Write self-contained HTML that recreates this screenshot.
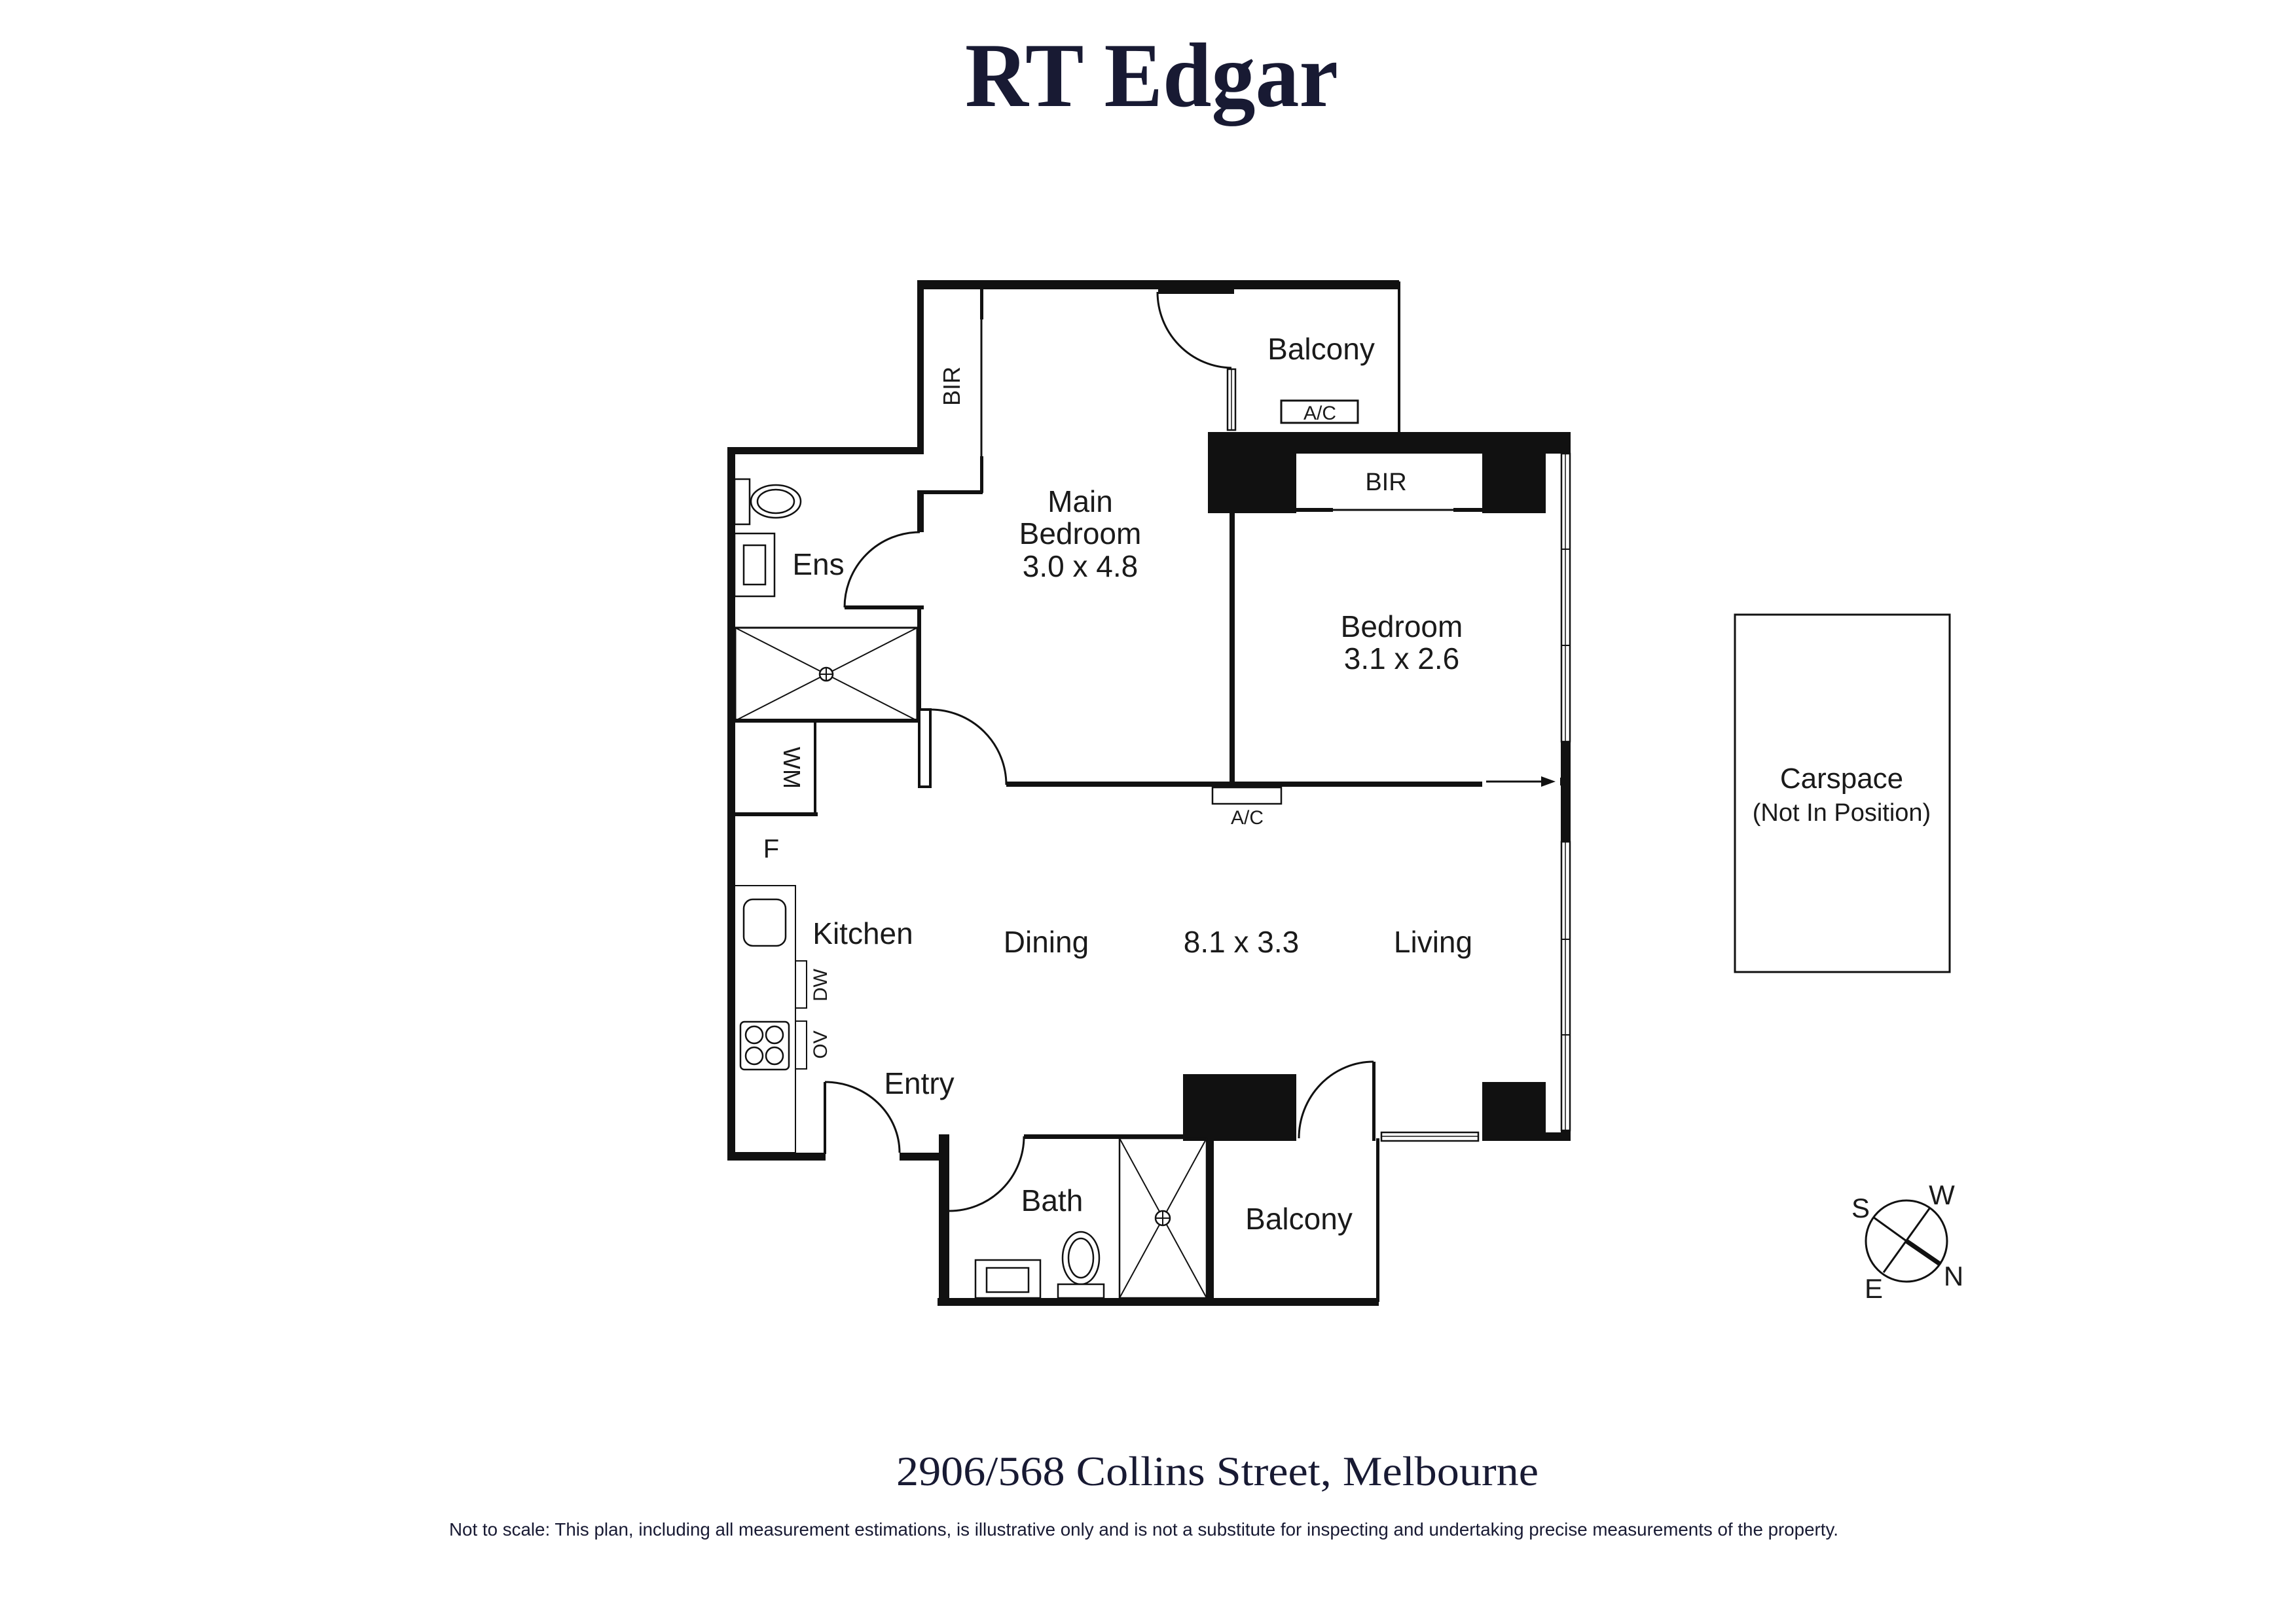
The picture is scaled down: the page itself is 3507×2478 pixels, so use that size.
<!DOCTYPE html>
<html><head><meta charset="utf-8"><style>
html,body{margin:0;padding:0;background:#fff;}
svg{display:block;}
text{font-family:"Liberation Sans",sans-serif;fill:#1a1a1a;}
</style></head><body>
<svg width="3507" height="2478" viewBox="0 0 3507 2478" xmlns="http://www.w3.org/2000/svg">
<rect width="3507" height="2478" fill="#fff"/>
<!-- Title -->
<text x="1474" y="162" font-family="Liberation Serif, serif" font-weight="bold" font-size="140" textLength="570" lengthAdjust="spacingAndGlyphs" style="font-family:'Liberation Serif',serif;fill:#181a33">RT Edgar</text>

<g fill="#111" stroke="none">
<!-- top wall -->
<rect x="1401" y="428" width="736" height="14"/>
<rect x="1769" y="436" width="116" height="13"/>
<!-- BIR left wall -->
<rect x="1401" y="428" width="10" height="265"/>
<!-- ens top wall -->
<rect x="1111" y="683" width="300" height="11"/>
<!-- left wall -->
<rect x="1111" y="683" width="12" height="1090"/>
<!-- bottom left wall -->
<rect x="1111" y="1761" width="150" height="12"/>
<rect x="1374" y="1761" width="76" height="12"/>
<!-- bath left wall -->
<rect x="1434" y="1733" width="16" height="262"/>
<!-- bottom wall -->
<rect x="1432" y="1983" width="674" height="12"/>
<!-- bath top wall -->
<rect x="1564" y="1733" width="245" height="7"/>
<!-- black block A -->
<rect x="1807" y="1641" width="173" height="102"/>
<!-- divider bath/balcony -->
<rect x="1843" y="1739" width="11" height="250"/>
<!-- balcony right -->
<rect x="2102" y="1739" width="5" height="250"/>
<!-- balcony door stub -->
<rect x="2096" y="1622" width="5" height="121"/>
<!-- black block B -->
<rect x="2264" y="1653" width="97" height="90"/>
<rect x="2264" y="1730" width="135" height="13"/>
<!-- black bedroom block -->
<rect x="1845" y="660" width="554" height="33"/>
<rect x="1845" y="660" width="135" height="124"/>
<rect x="2264" y="660" width="97" height="124"/>
<!-- right wall solid segment -->
<rect x="2384" y="1133" width="15" height="153"/>
<rect x="2384" y="1727" width="15" height="16"/>
<!-- bedroom divider -->
<rect x="1878" y="784" width="8" height="415"/>
<!-- horizontal wall -->
<rect x="1537" y="1194" width="727" height="8"/>
<!-- ens/main bedroom wall -->
<rect x="1401" y="749" width="10" height="64"/>
<rect x="1290" y="925" width="121" height="6"/>
<rect x="1401" y="925" width="6" height="178"/>
<!-- BIR bottom -->
<rect x="1401" y="749" width="100" height="6"/>
<!-- BIR right thick ends -->
<rect x="1497" y="440" width="5" height="48"/>
<rect x="1497" y="697" width="5" height="56"/>
<!-- ens shower bottom -->
<rect x="1111" y="1098" width="292" height="6"/>
<!-- WM -->
<rect x="1111" y="1241" width="138" height="6"/>
<rect x="1243" y="1101" width="4" height="144"/>
<!-- entry stub -->
<rect x="1258" y="1653" width="4" height="110"/>
<!-- bath left inner stub -->
</g>

<g fill="none" stroke="#111" stroke-width="3">
<!-- balcony right thin wall -->
<line x1="2137" y1="430" x2="2137" y2="660" stroke-width="4"/>
<!-- BIR right line -->
<line x1="1499" y1="440" x2="1499" y2="753"/>
<!-- balcony top door -->
<path d="M1768 446 A115 116 0 0 0 1881 562"/>
<rect x="1875" y="564" width="12" height="93" fill="#fff" stroke-width="2.5"/>
<line x1="1881" y1="564" x2="1881" y2="657" stroke-width="1.5"/>
<!-- balcony AC -->
<rect x="1957" y="612" width="117" height="34"/>
<!-- bedroom BIR bottom -->
<line x1="1980" y1="779" x2="2264" y2="779" stroke-width="3"/>
<line x1="1980" y1="779" x2="2036" y2="779" stroke-width="6"/>
<line x1="2220" y1="779" x2="2264" y2="779" stroke-width="6"/>
<!-- right windows -->
<rect x="2385" y="693" width="13" height="440" fill="#fff" stroke-width="2.5"/>
<line x1="2391" y1="693" x2="2391" y2="1133" stroke-width="1.5"/>
<line x1="2384" y1="839" x2="2399" y2="839" stroke-width="2"/>
<line x1="2384" y1="986" x2="2399" y2="986" stroke-width="2"/>
<rect x="2385" y="1286" width="13" height="441" fill="#fff" stroke-width="2.5"/>
<line x1="2391" y1="1286" x2="2391" y2="1727" stroke-width="1.5"/>
<line x1="2384" y1="1435" x2="2399" y2="1435" stroke-width="2"/>
<line x1="2384" y1="1581" x2="2399" y2="1581" stroke-width="2"/>
<!-- bottom window -->
<rect x="2110" y="1730" width="148" height="13" fill="#fff" stroke-width="2.5"/>
<line x1="2110" y1="1736" x2="2258" y2="1736" stroke-width="1.5"/>
<!-- ens door -->
<path d="M1405 813 A115 115 0 0 0 1290 928"/>
<!-- main bedroom door -->
<rect x="1404" y="1084" width="17" height="118" fill="#fff" stroke-width="4"/>
<path d="M1421 1084 A116 115 0 0 1 1537 1199"/>
<!-- entry door -->
<path d="M1260 1653 A114 108 0 0 1 1374 1761"/>
<!-- bath door -->
<path d="M1450 1850 A114 114 0 0 0 1564 1736"/>
<!-- balcony bottom door -->
<path d="M2098 1622 A114 117 0 0 0 1984 1739"/>
<!-- arrow -->
<line x1="2270" y1="1194" x2="2358" y2="1194"/>
<!-- AC below -->
<rect x="1852" y="1203" width="105" height="25" stroke-width="2.5"/>
<!-- ens fixtures -->
<rect x="1122" y="732" width="23" height="69" stroke-width="2.5"/>
<ellipse cx="1185" cy="766" rx="38" ry="25" stroke-width="2.5"/>
<ellipse cx="1185" cy="766" rx="28" ry="18" stroke-width="2.5"/>
<rect x="1122" y="815" width="61" height="96" stroke-width="2.5"/>
<rect x="1136" y="833" width="33" height="60" stroke-width="2.5"/>
<!-- ens shower -->
<rect x="1123" y="959" width="278" height="142" stroke-width="3"/>
<line x1="1123" y1="959" x2="1401" y2="1101" stroke-width="2"/>
<line x1="1401" y1="959" x2="1123" y2="1101" stroke-width="2"/>
<circle cx="1262" cy="1030" r="10" fill="#fff" stroke-width="2.5"/>
<line x1="1252" y1="1030" x2="1272" y2="1030" stroke-width="2"/>
<line x1="1262" y1="1020" x2="1262" y2="1040" stroke-width="2"/>
<!-- kitchen -->
<rect x="1122" y="1353" width="93" height="408" stroke-width="2"/>
<rect x="1136" y="1374" width="64" height="71" rx="14" stroke-width="2.5"/>
<rect x="1215" y="1468" width="17" height="72" stroke-width="2"/>
<rect x="1215" y="1560" width="17" height="73" stroke-width="2"/>
<rect x="1131" y="1561" width="74" height="73" rx="6" stroke-width="2.5"/>
<circle cx="1152" cy="1581" r="13" stroke-width="2.5"/>
<circle cx="1183" cy="1581" r="13" stroke-width="2.5"/>
<circle cx="1152" cy="1613" r="13" stroke-width="2.5"/>
<circle cx="1183" cy="1613" r="13" stroke-width="2.5"/>
<!-- bath fixtures -->
<rect x="1490" y="1925" width="99" height="58" stroke-width="2.5"/>
<rect x="1507" y="1937" width="64" height="37" stroke-width="2.5"/>
<ellipse cx="1651" cy="1922" rx="28" ry="40" stroke-width="2.5"/>
<ellipse cx="1651" cy="1922" rx="19" ry="30" stroke-width="2.5"/>
<rect x="1616" y="1962" width="70" height="21" fill="#fff" stroke-width="2.5"/>
<!-- bath shower -->
<rect x="1710" y="1739" width="133" height="244" stroke-width="2.5"/>
<line x1="1710" y1="1739" x2="1843" y2="1983" stroke-width="2"/>
<line x1="1843" y1="1739" x2="1710" y2="1983" stroke-width="2"/>
<circle cx="1776" cy="1861" r="11" fill="#fff" stroke-width="2.5"/>
<line x1="1765" y1="1861" x2="1787" y2="1861" stroke-width="2"/>
<line x1="1776" y1="1850" x2="1776" y2="1872" stroke-width="2"/>
<!-- carspace -->
<rect x="2650" y="939" width="328" height="546" stroke-width="3"/>
<!-- compass -->
<circle cx="2912" cy="1896" r="62" stroke-width="3"/>
<line x1="2862" y1="1860" x2="2912" y2="1896" stroke-width="3"/>
<line x1="2912" y1="1896" x2="2963" y2="1931" stroke-width="7"/>
<line x1="2948" y1="1845" x2="2877" y2="1944" stroke-width="3"/>
</g>
<polygon points="2354,1186 2376,1194 2354,1202" fill="#111"/>
<rect x="2383" y="1188" width="4" height="12" fill="#111"/>

<!-- labels -->
<g font-size="46" text-anchor="middle">
<text x="1650" y="782">Main</text>
<text x="1650" y="831">Bedroom</text>
<text x="1650" y="881">3.0 x 4.8</text>
<text x="2018" y="549">Balcony</text>
<text x="2141" y="973">Bedroom</text>
<text x="2141" y="1022">3.1 x 2.6</text>
<text x="1250" y="878">Ens</text>
<text x="1318" y="1442">Kitchen</text>
<text x="1598" y="1455">Dining</text>
<text x="1896" y="1455">8.1 x 3.3</text>
<text x="2189" y="1455">Living</text>
<text x="1404" y="1671">Entry</text>
<text x="1607" y="1850">Bath</text>
<text x="1984" y="1878">Balcony</text>
<text x="1178" y="1310" font-size="40">F</text>
</g>
<g font-size="34" text-anchor="middle">
<text x="2117" y="749" font-size="38">BIR</text>
<text x="2016" y="641" font-size="30">A/C</text>
<text x="1905" y="1259" font-size="30">A/C</text>
<text transform="translate(1466,590) rotate(-90)" font-size="36">BIR</text>
<text transform="translate(1197,1173) rotate(90)" font-size="36">WM</text>
<text transform="translate(1263,1505) rotate(-90)" font-size="30">DW</text>
<text transform="translate(1263,1596) rotate(-90)" font-size="30">OV</text>
</g>
<g text-anchor="middle">
<text x="2813" y="1204" font-size="44">Carspace</text>
<text x="2813" y="1254" font-size="38">(Not In Position)</text>
<text x="2842" y="1860" font-size="42">S</text>
<text x="2966" y="1840" font-size="42">W</text>
<text x="2862" y="1983" font-size="42">E</text>
<text x="2984" y="1964" font-size="42">N</text>
</g>
<text x="1369" y="2269" font-size="64" textLength="981" lengthAdjust="spacingAndGlyphs" style="font-family:'Liberation Serif',serif;fill:#181a33">2906/568 Collins Street, Melbourne</text>
<text x="686" y="2346" font-size="28" textLength="2122" lengthAdjust="spacingAndGlyphs" style="fill:#181a33">Not to scale: This plan, including all measurement estimations, is illustrative only and is not a substitute for inspecting and undertaking precise measurements of the property.</text>
</svg>
</body></html>
